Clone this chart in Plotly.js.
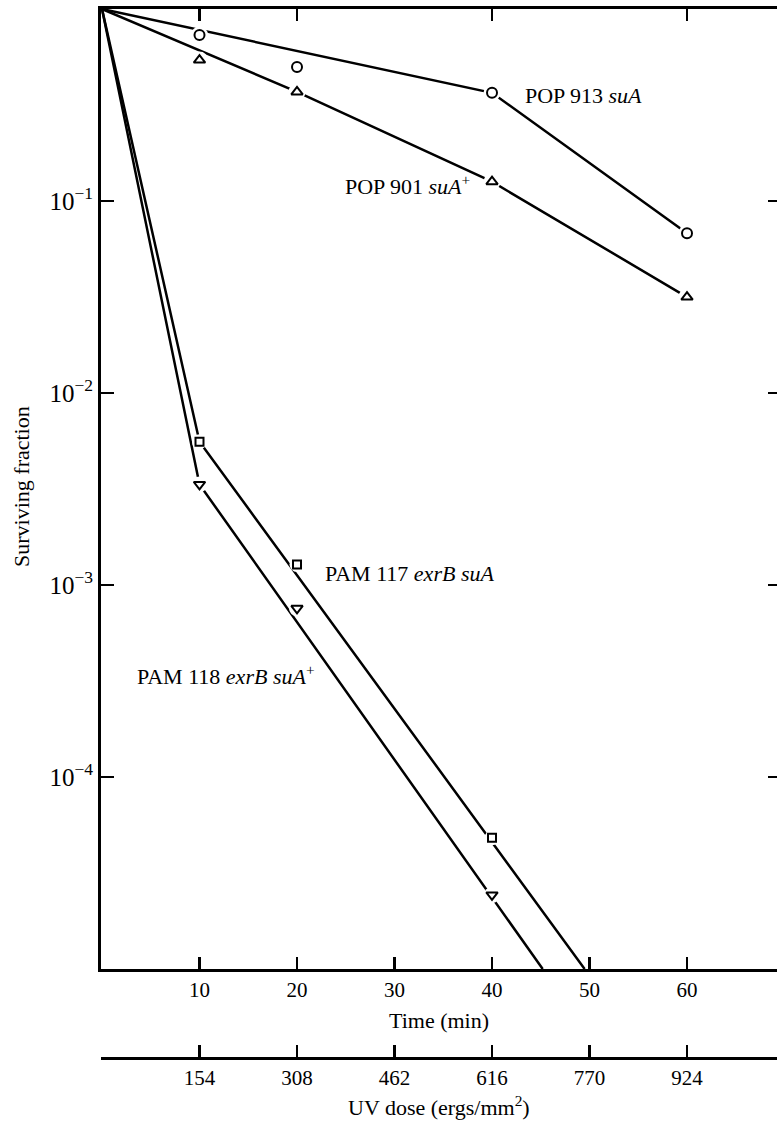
<!DOCTYPE html>
<html>
<head>
<meta charset="utf-8">
<script src="https://cdn.plot.ly/plotly-3.0.1.min.js"></script>
<style>html,body{margin:0;padding:0;background:#fff;}#chart{width:777px;height:1122px;}</style>
</head>
<body>
<div id="chart"></div>
<script>
// ---- Data ----
const timeTickVals = [10, 20, 30, 40, 50, 60];
const timeTickText = ['10', '20', '30', '40', '50', '60'];
const doseTickText = ['154', '308', '462', '616', '770', '924'];
const topTickVals = [10, 20, 40, 60];
const survTickVals = [1e-1, 1e-2, 1e-3, 1e-4];
const survTickText = ['10<sup>\u22121</sup>', '10<sup>\u22122</sup>', '10<sup>\u22123</sup>', '10<sup>\u22124</sup>'];

// measured points
const pop913Time = [10, 20, 40, 60];
const pop913Surv = [0.732, 0.499, 0.366, 0.068];
const pop901Time = [10, 20, 40, 60];
const pop901Surv = [0.542, 0.370, 0.126, 0.0316];
const pam117Time = [10, 20, 40];
const pam117Surv = [5.58e-3, 1.28e-3, 4.83e-5];
const pam118Time = [10, 20, 40];
const pam118Surv = [3.34e-3, 7.56e-4, 2.43e-5];

// drawn curves
const pop913LineTime = [0, 40, 60];
const pop913LineSurv = [1, 0.366, 0.068];
const pop901LineTime = [0, 20, 40, 60];
const pop901LineSurv = [1, 0.370, 0.126, 0.0316];
const pam117LineTime = [0, 10, 49.5];
const pam117LineSurv = [1, 5.58e-3, 1e-5];
const pam118LineTime = [0, 10, 45.2];
const pam118LineSurv = [1, 3.34e-3, 1e-5];

// labels
const seriesLabels = ['POP 913 <i>suA</i>', 'POP 901 <i>suA</i><sup>+</sup>', 'PAM 117 <i>exrB suA</i>', 'PAM 118 <i>exrB suA</i><sup>+</sup>'];

// ---- Styling ----
const FONT = 'Liberation Serif, Times New Roman, serif';
const lineStyle = {color: '#000', width: 2.5};

function lineTrace(x, y) {
  return {x: x, y: y, type: 'scatter', mode: 'lines', line: lineStyle, hoverinfo: 'skip', showlegend: false, cliponaxis: true};
}
function haloTrace(x, y, size) {
  return {x: x, y: y, type: 'scatter', mode: 'markers', marker: {symbol: 'circle', size: size, color: '#fff', line: {width: 0}}, hoverinfo: 'skip', showlegend: false};
}
function markerTrace(x, y, sym, size) {
  return {x: x, y: y, type: 'scatter', mode: 'markers', marker: {symbol: sym, size: size, color: '#000', line: {color: '#000', width: 2}}, showlegend: false};
}

const traces = [
  lineTrace(pop913LineTime, pop913LineSurv),
  lineTrace(pop901LineTime, pop901LineSurv),
  lineTrace(pam117LineTime, pam117LineSurv),
  lineTrace(pam118LineTime, pam118LineSurv),
  haloTrace(pop913Time, pop913Surv, 17),
  haloTrace(pop901Time, pop901Surv, 17),
  haloTrace(pam117Time, pam117Surv, 15),
  haloTrace(pam118Time, pam118Surv, 16),
  markerTrace(pop913Time, pop913Surv, 'circle-open', 10),
  markerTrace(pop901Time, pop901Surv, 'triangle-up-open', 10),
  markerTrace(pam117Time, pam117Surv, 'square-open', 8),
  markerTrace(pam118Time, pam118Surv, 'triangle-down-open', 10)
];

const xRange = [-0.103, 69.23];
const yRange = [-5, 0];

const layout = {
  width: 777, height: 1122,
  margin: {l: 101, r: 0, t: 9, b: 64, pad: 0},
  paper_bgcolor: '#fff', plot_bgcolor: '#fff',
  font: {family: FONT, size: 21, color: '#000'},
  showlegend: false,
  xaxis: {
    range: xRange, anchor: 'y', side: 'bottom',
    showline: true, linewidth: 3, linecolor: '#000', showgrid: false, zeroline: false,
    ticks: 'inside', ticklen: 12, tickwidth: 2.5, tickcolor: '#000',
    tickmode: 'array', tickvals: timeTickVals, ticktext: timeTickText,
    tickfont: {family: FONT, size: 21}
  },
  xaxis2: {
    range: xRange, overlaying: 'x', anchor: 'free', position: 0, side: 'bottom',
    showline: true, linewidth: 3, linecolor: '#000', showgrid: false, zeroline: false,
    ticks: 'inside', ticklen: 12, tickwidth: 2.5, tickcolor: '#000',
    tickmode: 'array', tickvals: timeTickVals, ticktext: doseTickText,
    tickfont: {family: FONT, size: 21}
  },
  xaxis3: {
    range: xRange, overlaying: 'x', anchor: 'y', side: 'top',
    showline: true, linewidth: 3, linecolor: '#000', showgrid: false, zeroline: false,
    ticks: 'inside', ticklen: 12, tickwidth: 2.5, tickcolor: '#000',
    tickmode: 'array', tickvals: topTickVals, showticklabels: false
  },
  yaxis: {
    type: 'log', range: yRange, domain: [0.08484, 1], anchor: 'x',
    showline: true, linewidth: 3, linecolor: '#000', showgrid: false, zeroline: false,
    ticks: 'inside', ticklen: 13, tickwidth: 2.5, tickcolor: '#000',
    tickmode: 'array', tickvals: survTickVals, ticktext: survTickText,
    tickfont: {family: FONT, size: 25}
  },
  yaxis2: {
    type: 'log', range: yRange, domain: [0.08484, 1], overlaying: 'y', side: 'right', anchor: 'x',
    showline: false, showgrid: false, zeroline: false,
    ticks: 'inside', ticklen: 9, tickwidth: 2.5, tickcolor: '#000',
    tickmode: 'array', tickvals: survTickVals, showticklabels: false
  },
  annotations: [
    {text: seriesLabels[0], x: 43.2, y: -0.453, xref: 'x', yref: 'y', xanchor: 'left', yanchor: 'middle', showarrow: false, font: {family: FONT, size: 22}},
    {text: seriesLabels[1], x: 24.7, y: -0.917, xref: 'x', yref: 'y', xanchor: 'left', yanchor: 'middle', showarrow: false, font: {family: FONT, size: 22}},
    {text: seriesLabels[2], x: 22.7, y: -2.94, xref: 'x', yref: 'y', xanchor: 'left', yanchor: 'middle', showarrow: false, font: {family: FONT, size: 22}},
    {text: seriesLabels[3], x: 22.05, y: -3.47, xref: 'x', yref: 'y', xanchor: 'right', yanchor: 'middle', showarrow: false, font: {family: FONT, size: 22}},
    {text: 'Time (min)', x: 0.5, y: 0.0362, xref: 'paper', yref: 'paper', xanchor: 'center', yanchor: 'middle', showarrow: false, font: {family: FONT, size: 22}},
    {text: 'UV dose (ergs/mm<sup>2</sup>)', x: 0.5, y: -0.0458, xref: 'paper', yref: 'paper', xanchor: 'center', yanchor: 'middle', showarrow: false, font: {family: FONT, size: 22}},
    {text: 'Surviving fraction', x: -0.1169, y: 0.5453, xref: 'paper', yref: 'paper', xanchor: 'center', yanchor: 'middle', textangle: -90, showarrow: false, font: {family: FONT, size: 22}}
  ]
};

traces.forEach(t => { t.xaxis = 'x'; t.yaxis = 'y'; });
traces.push({x: [null], y: [null], xaxis: 'x2', yaxis: 'y', type: 'scatter', mode: 'markers', showlegend: false, hoverinfo: 'skip'});
traces.push({x: [null], y: [null], xaxis: 'x3', yaxis: 'y', type: 'scatter', mode: 'markers', showlegend: false, hoverinfo: 'skip'});
traces.push({x: [null], y: [null], xaxis: 'x', yaxis: 'y2', type: 'scatter', mode: 'markers', showlegend: false, hoverinfo: 'skip'});

Plotly.newPlot('chart', traces, layout, {staticPlot: true, displayModeBar: false});
</script>
</body>
</html>
